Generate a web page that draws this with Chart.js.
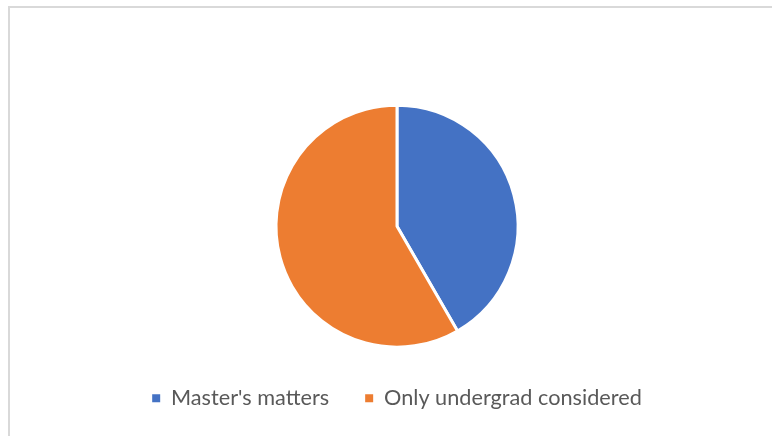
<!DOCTYPE html>
<html>
<head>
<meta charset="utf-8">
<script src="https://cdn.jsdelivr.net/npm/chart.js@4.4.1/dist/chart.umd.min.js"></script>
<style>
    html, body { margin: 0; padding: 0; background: #fff; overflow: hidden; }
    #frame { position: absolute; left: 8px; top: 6px; width: 800px; height: 500px; border: 2px solid #d9d9d9; }
    #wrap { position: absolute; left: 0; top: 0; width: 772px; height: 436px; }
</style>
</head>
<body>
<div id="frame"></div>
<div id="wrap"><canvas id="pieChart"></canvas></div>
<script>
const categories = ["Master's matters", "Only undergrad considered"];
const responses = [10, 14];
const sliceColors = ["#4472c4", "#ed7d31"];

document.addEventListener("DOMContentLoaded", function() {
    const ctx = document.getElementById("pieChart").getContext("2d");

    new Chart(ctx, {
        type: "pie",
        data: {
            labels: categories,
            datasets: [{
                data: responses,
                backgroundColor: sliceColors,
                borderColor: "#ffffff",
                borderWidth: 3,
                radius: 121
            }]
        },
        options: {
            responsive: true,
            maintainAspectRatio: false,
            animation: false,
            layout: {
                padding: { left: 22, right: 0, top: 101, bottom: 17 }
            },
            plugins: {
                tooltip: { enabled: false },
                legend: {
                    position: "bottom",
                    labels: {
                        boxWidth: 8,
                        boxHeight: 8,
                        padding: 36,
                        color: "#595959",
                        font: { family: "Lato", size: 21.7 },
                        generateLabels: function(chart) {
                            // plain squares, no white stroke round them
                            const items = Chart.overrides.pie.plugins.legend.labels.generateLabels(chart);
                            items.forEach(function(item) {
                                item.lineWidth = 0;
                                item.strokeStyle = "rgba(0,0,0,0)";
                            });
                            return items;
                        }
                    }
                }
            }
        }
    });
});
</script>
</body>
</html>
